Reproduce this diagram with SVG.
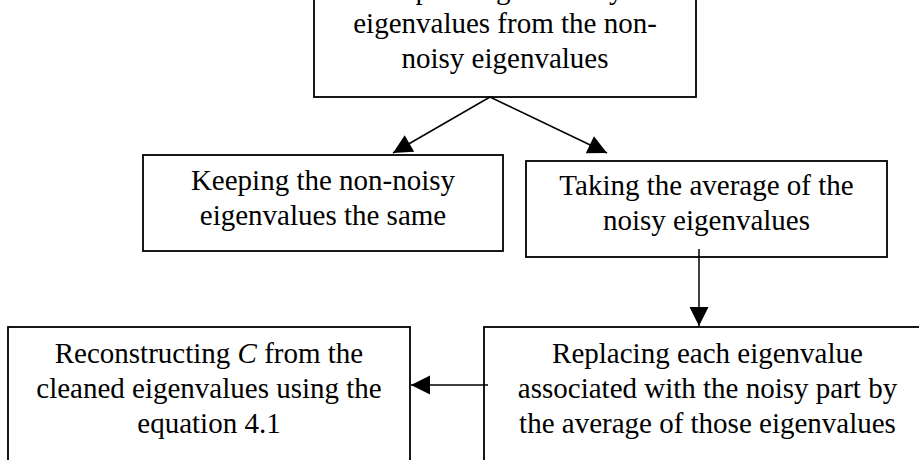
<svg xmlns="http://www.w3.org/2000/svg" width="919" height="460" viewBox="0 0 919 460">
<defs>
<style>
.box{fill:#fff;stroke:#000;stroke-width:1.8}
.t{font-size:29px;fill:#000;text-anchor:middle}
.c{stroke:#000;stroke-width:1.5;fill:none;marker-end:url(#ah)}
</style>
<marker id="ah" markerUnits="userSpaceOnUse" markerWidth="20" markerHeight="20" viewBox="0 0 19 20" refX="19" refY="10" orient="auto">
<path d="M0,0.5 L19,10 L0,19.5 Z" fill="#000"/>
</marker>
</defs>
<rect width="919" height="460" fill="#fff"/>
<g font-family="Liberation Serif, Times New Roman, serif">
<g id="node-separate">
<rect class="box" x="314" y="-60" width="382" height="157"/>
<text class="t" x="505" y="-1.5">Separating the noisy</text>
<text class="t" x="505" y="33">eigenvalues from the non-</text>
<text class="t" x="505" y="67.5">noisy eigenvalues</text>
</g>
<g id="node-keep">
<rect class="box" x="143" y="155" width="360" height="96"/>
<text class="t" x="323" y="190">Keeping the non-noisy</text>
<text class="t" x="323" y="225">eigenvalues the same</text>
</g>
<g id="node-average">
<rect class="box" x="526" y="161" width="361" height="96"/>
<text class="t" x="706.5" y="195">Taking the average of the</text>
<text class="t" x="706.5" y="230">noisy eigenvalues</text>
</g>
<g id="node-replace">
<rect class="box" x="484" y="327" width="460" height="160"/>
<text class="t" x="707.5" y="363">Replacing each eigenvalue</text>
<text class="t" x="707.5" y="398">associated with the noisy part by</text>
<text class="t" x="707.5" y="432.5">the average of those eigenvalues</text>
</g>
<g id="node-reconstruct">
<rect class="box" x="8" y="327" width="402" height="160"/>
<text class="t" x="209" y="363">Reconstructing <tspan font-style="italic">C</tspan> from the</text>
<text class="t" x="209" y="398">cleaned eigenvalues using the</text>
<text class="t" x="209" y="432.5">equation 4.1</text>
</g>
</g>
<g id="connectors">
<line class="c" x1="490" y1="97" x2="393" y2="153"/>
<line class="c" x1="490" y1="97" x2="607" y2="153"/>
<line class="c" x1="699" y1="249" x2="699" y2="326"/>
<line class="c" x1="488" y1="385" x2="411" y2="385"/>
</g>
</svg>
